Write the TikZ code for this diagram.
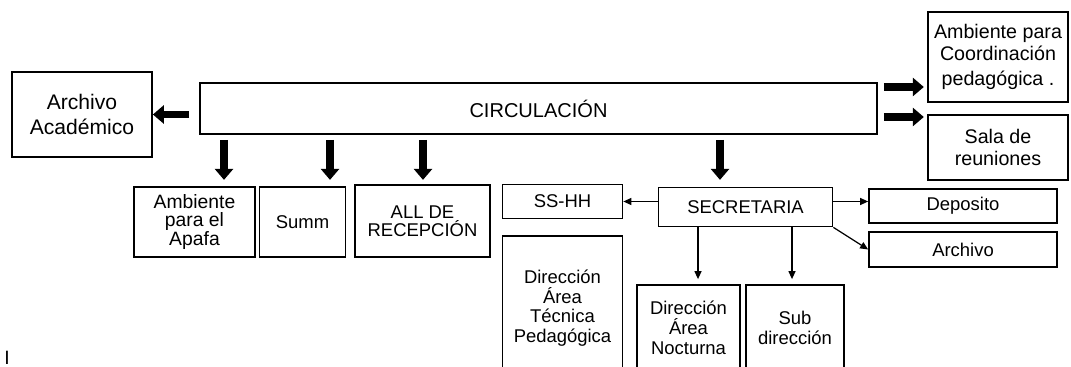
\documentclass[tikz,border=0pt]{standalone}
\usepackage{fontspec}
\setmainfont{Liberation Sans}
\usetikzlibrary{calc,arrows.meta,positioning}
\tikzset{
    room/.style={
        draw,line width=1pt,
        fill=white,inner sep=1pt,
        align=center,
        font=\fontsize{10.5}{11.5}\selectfont
    },
    big arrow/.style={line width=0.15cm,-{Triangle[width=0.36cm,length=0.22cm]}},
    thin arrow/.style={line width=0.7pt,-{Triangle[width=0.14cm,length=0.16cm]}}
}
\begin{document}
\begin{tikzpicture}[x=0.02cm,y=-0.02cm]
\useasboundingbox (0,0) rectangle (1071,367);
\clip (0,0) rectangle (1071,367);
\node[room,minimum width=2.8cm,minimum height=1.7cm,font=\fontsize{12}{14.3}\selectfont] (acad) at (82,114.5) {Archivo\\Académico};
\node[room,minimum width=13.54cm,minimum height=1.02cm,font=\fontsize{11.4}{13}\selectfont] (circ) at (538.5,108.5) {CIRCULACIÓN};
\node[room,minimum width=2.8cm,minimum height=1.8cm,font=\fontsize{11.2}{12.4}\selectfont] (coord) at (998,57) {Ambiente para\\Coordinación\\[2pt]pedagógica .};
\node[room,minimum width=2.8cm,minimum height=1.3cm,font=\fontsize{11.2}{12.4}\selectfont] (sala) at (998,147.5) {Sala de\\reuniones};
\node[room,minimum width=2.42cm,minimum height=1.4cm,font=\fontsize{11}{10.6}\selectfont] (apafa) at (194.5,222) {Ambiente\\para el\\Apafa};
\node[room,minimum width=1.72cm,minimum height=1.4cm] (summ) at (302.5,222) {Summ};
\node[room,minimum width=2.7cm,minimum height=1.44cm,font=\fontsize{10.5}{10.5}\selectfont] (recep) at (422.5,221) {ALL DE\\RECEPCIÓN};
\node[room,minimum width=2.4cm,minimum height=0.68cm] (sshh) at (562.5,201.5) {SS-HH};
\node[room,minimum width=3.48cm,minimum height=0.78cm] (secre) at (745.5,207) {SECRETARIA};
\node[room,minimum width=3.76cm,minimum height=0.68cm] (depo) at (963,206) {Deposito};
\node[room,minimum width=3.76cm,minimum height=0.7cm] (arch) at (963,249.5) {Archivo};
\node[room,minimum width=2.4cm,minimum height=2.88cm,font=\fontsize{10.5}{11.2}\selectfont] (tec) at (562.5,308) {Dirección\\Área\\Técnica\\Pedagógica};
\node[room,minimum width=2.06cm,minimum height=1.72cm,font=\fontsize{10.5}{11.4}\selectfont] (noct) at (688.5,328) {Dirección\\Área\\Nocturna};
\node[room,minimum width=1.96cm,minimum height=1.72cm,font=\fontsize{10.5}{11}\selectfont] (sub) at (795,328) {Sub\\dirección};
\node[font=\fontsize{11}{12}\selectfont,anchor=north,inner sep=0pt] (mark) at (7,351) {I};
\draw[big arrow] (circ.west |- acad.east) ++(-10,0) -- (acad.east);
\foreach \x in {224,330,423,720}
    \draw[big arrow] (circ.south -| \x,0) ++(0,5) -- ++(0,40);
\foreach \y in {87,117}
    \draw[big arrow] (circ.east |- 0,\y) ++(6,0) -- ++(40,0);
\draw[thin arrow] (secre.west |- sshh.east) -- (sshh.east);
\draw[thin arrow] (secre.east |- sshh.east) -- (depo.west |- sshh.east);
\draw[thin arrow] (secre.south east) -- (arch.west);
\draw[thin arrow,shorten >=0.1cm] (secre.south -| 698,0) -- (noct.north -| 698,0);
\draw[thin arrow,shorten >=0.1cm] (secre.south -| 792,0) -- (sub.north -| 792,0);
\end{tikzpicture}
\end{document}
